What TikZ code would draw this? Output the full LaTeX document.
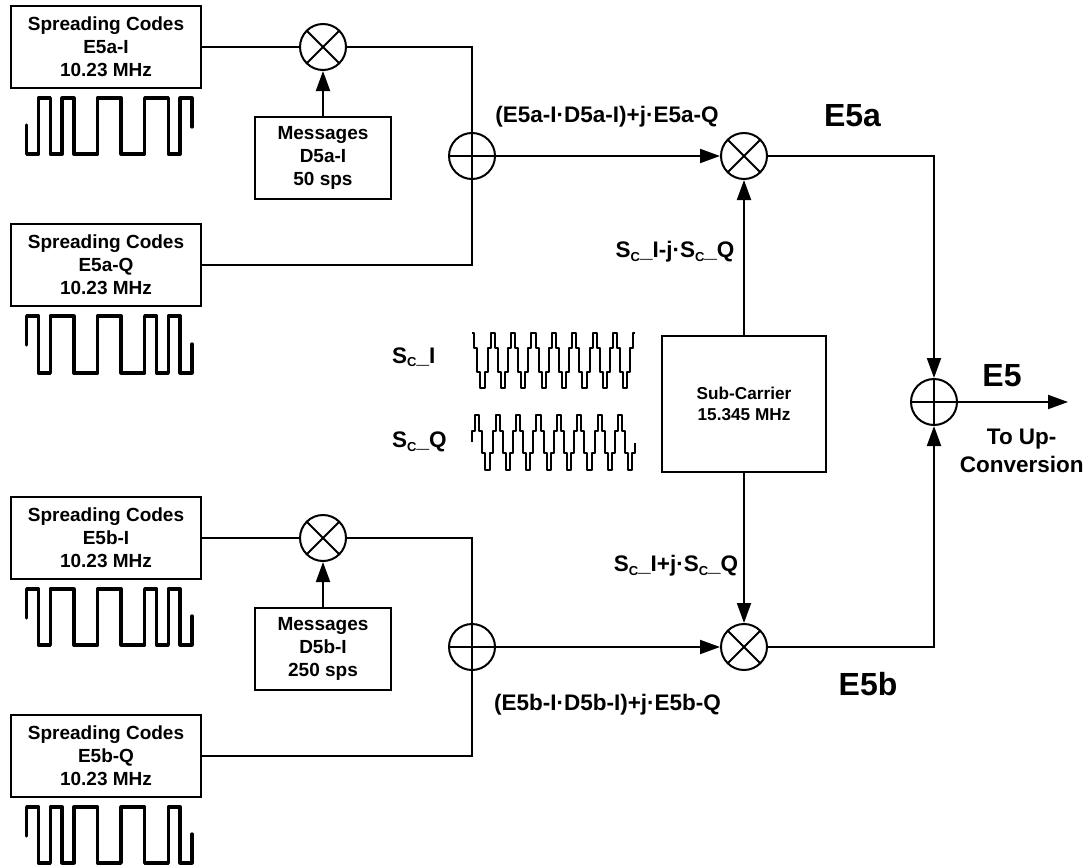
\documentclass[tikz,border=0pt]{standalone}
\usepackage{fontspec}
\setmainfont{Liberation Sans}
\usetikzlibrary{arrows.meta,positioning,calc}
\newcommand{\subc}{S\raisebox{-3.5pt}{\fontsize{13}{13}\selectfont C}}

\begin{document}
\begin{tikzpicture}[
  x=1pt, y=-1pt,
  box/.style={rectangle, draw, line width=2pt, minimum width=190pt, minimum height=82pt,
              align=center, inner sep=0pt, font=\fontsize{19}{23}\selectfont\bfseries},
  msgbox/.style={box, minimum width=136pt},
  subbox/.style={box, minimum width=164pt, minimum height=136pt,
                 font=\fontsize{17.2}{21}\selectfont\bfseries},
  mul/.style={circle, draw, line width=2pt, minimum size=46pt, inner sep=0pt,
              path picture={\draw[line width=2pt]
                ($(path picture bounding box.center)+(-16,-16)$) -- ++(32,32)
                ($(path picture bounding box.center)+(-16,16)$) -- ++(32,-32);}},
  add/.style={circle, draw, line width=2pt, minimum size=46pt, inner sep=0pt,
              path picture={\draw[line width=2pt]
                ($(path picture bounding box.center)+(-23,0)$) -- ++(46,0)
                ($(path picture bounding box.center)+(0,-23)$) -- ++(0,46);}},
  arr/.style={-{Triangle[length=20pt,width=14pt]}, line width=2pt},
  wire/.style={line width=2pt},
  chipwave/.style={line width=3.3pt, line join=round, line cap=round},
  subwave/.style={line width=2pt, line join=round},
  lbl/.style={font=\fontsize{22.5}{28}\selectfont\bfseries, align=center, inner sep=0pt},
  sig/.style={font=\fontsize{32}{36}\selectfont\bfseries, inner sep=0pt}
]
  \useasboundingbox (0,0) rectangle (1089,867);

  % Spreading code boxes
  \node[box] (codeai) at (106,47) {Spreading Codes\\E5a-I\\10.23 MHz};
  \node[box] (codeaq) at (106,265) {Spreading Codes\\E5a-Q\\10.23 MHz};
  \node[box] (codebi) at (106,538) {Spreading Codes\\E5b-I\\10.23 MHz};
  \node[box] (codebq) at (106,756) {Spreading Codes\\E5b-Q\\10.23 MHz};

  % First mixers and message boxes
  \node[mul] (mulai) at (323,47) {};
  \node[mul] (mulbi) at (323,538) {};
  \node[msgbox, below=45pt of mulai] (msga) {Messages\\D5a-I\\50 sps};
  \node[msgbox, below=45pt of mulbi] (msgb) {Messages\\D5b-I\\250 sps};

  % Adders, second mixers, output adder
  \node[add] (adda) at (472,156) {};
  \node[add] (addb) at (472,647) {};
  \node[mul] (mula) at (744,156) {};
  \node[mul] (mulb) at (744,647) {};
  \node[add] (sum) at (934,402) {};
  \coordinate (out) at (1068,402);

  % Sub-carrier box
  \node[subbox] (sub) at (744,404) {Sub-Carrier\\15.345 MHz};

  % Wires
  \draw[wire] (codeai) -- (mulai);
  \draw[wire] (codebi) -- (mulbi);
  \draw[wire] (mulai) -| (adda);
  \draw[wire] (mulbi) -| (addb);
  \draw[wire] (codeaq) -| (adda);
  \draw[wire] (codebq) -| (addb);

  % Arrows
  \draw[arr] (msga) -- (mulai);
  \draw[arr] (msgb) -- (mulbi);
  \draw[arr] (adda) -- (mula);
  \draw[arr] (addb) -- (mulb);
  \draw[arr] (sub) -- (mula);
  \draw[arr] (sub) -- (mulb);
  \draw[arr] (mula) -| (sum);
  \draw[arr] (mulb) -| (sum);
  \draw[arr] (sum) -- (out);

  % Labels
  \node[lbl] (laba) at (607,117) {(E5a-I·D5a-I)+j·E5a-Q};
  \node[lbl] (labb) at (607.5,705) {(E5b-I·D5b-I)+j·E5b-Q};
  \node[lbl] (labm) at (675,252) {\subc\_I-j·\subc\_Q};
  \node[lbl] (labp) at (676,566) {\subc\_I+j·\subc\_Q};
  \node[lbl, anchor=west] (labi) at (392,357) {\subc\_I};
  \node[lbl, anchor=west] (labq) at (392,442) {\subc\_Q};
  \node[lbl] (labup) at (1021.7,451) {To Up-\\Conversion};
  \node[sig] (siga) at (852.5,116) {E5a};
  \node[sig] (sigb) at (868,684) {E5b};
  \node[sig] (sige) at (1002,376) {E5};

  % Chip waveforms
  \draw[chipwave] (26.7,125) -- ++(0,29) -| ++(11.8,-56) -| ++(11.8,56) -| ++(11.8,-56) -| ++(11.8,56)
    -| ++(23.6,-56) -| ++(23.6,56) -| ++(23.6,-56) -| ++(23.6,56) -| ++(11.8,-56) -| ++(11.8,29);
  \draw[chipwave] (26.7,345) -- ++(0,-29) -| ++(11.8,57) -| ++(11.8,-57) -| ++(23.6,57) -| ++(23.6,-57)
    -| ++(23.6,57) -| ++(23.6,-57) -| ++(11.8,57) -| ++(11.8,-57) -| ++(11.8,57) -| ++(11.8,-29);
  \draw[chipwave] (26.7,618) -- ++(0,-29) -| ++(11.8,56) -| ++(11.8,-56) -| ++(23.6,56) -| ++(23.6,-56)
    -| ++(23.6,56) -| ++(23.6,-56) -| ++(11.8,56) -| ++(11.8,-56) -| ++(11.8,56) -| ++(11.8,-29);
  \draw[chipwave] (26.7,836) -- ++(0,-29) -| ++(11.8,56) -| ++(11.8,-56) -| ++(11.8,56) -| ++(11.8,-56)
    -| ++(23.6,56) -| ++(23.6,-56) -| ++(23.6,56) -| ++(23.6,-56) -| ++(11.8,56) -| ++(11.8,-29);

  % Sub-carrier waveforms
  \draw[subwave] (471.7,333) -- (474.4,333)
    \foreach \k in {1,...,7} { -- ++(0,15.3) -- ++(3,0) -- ++(0,23.4) -- ++(3,0) -- ++(0,16.6) -- ++(4.2,0)
      -- ++(0,-16.6) -- ++(3,0) -- ++(0,-23.4) -- ++(3,0) -- ++(0,-15.3) -- ++(4.2,0) }
    -- ++(0,15.3) -- ++(3,0) -- ++(0,23.4) -- ++(3,0) -- ++(0,16.6) -- ++(4.2,0)
    -- ++(0,-16.6) -- ++(3,0) -- ++(0,-23.4) -- ++(3,0) -- ++(0,-15.3) -- ++(1.9,0);
  \draw[subwave] (471.7,441.7) -- (471.7,431) -- (475.1,431) -- (475.1,415) -- ++(4.2,0)
    \foreach \k in {1,...,7} { -- ++(0,16) -- ++(3,0) -- ++(0,22.3) -- ++(3,0) -- ++(0,16.7) -- ++(4.2,0)
      -- ++(0,-16.7) -- ++(3,0) -- ++(0,-22.3) -- ++(3,0) -- ++(0,-16) -- ++(4.2,0) }
    -- ++(0,16) -- ++(3,0) -- ++(0,22.3) -- ++(3,0) -- ++(0,16.7) -- ++(4.2,0)
    -- ++(0,-16.7) -- ++(3,0) -- ++(0,-10.6);

\end{tikzpicture}
\end{document}
